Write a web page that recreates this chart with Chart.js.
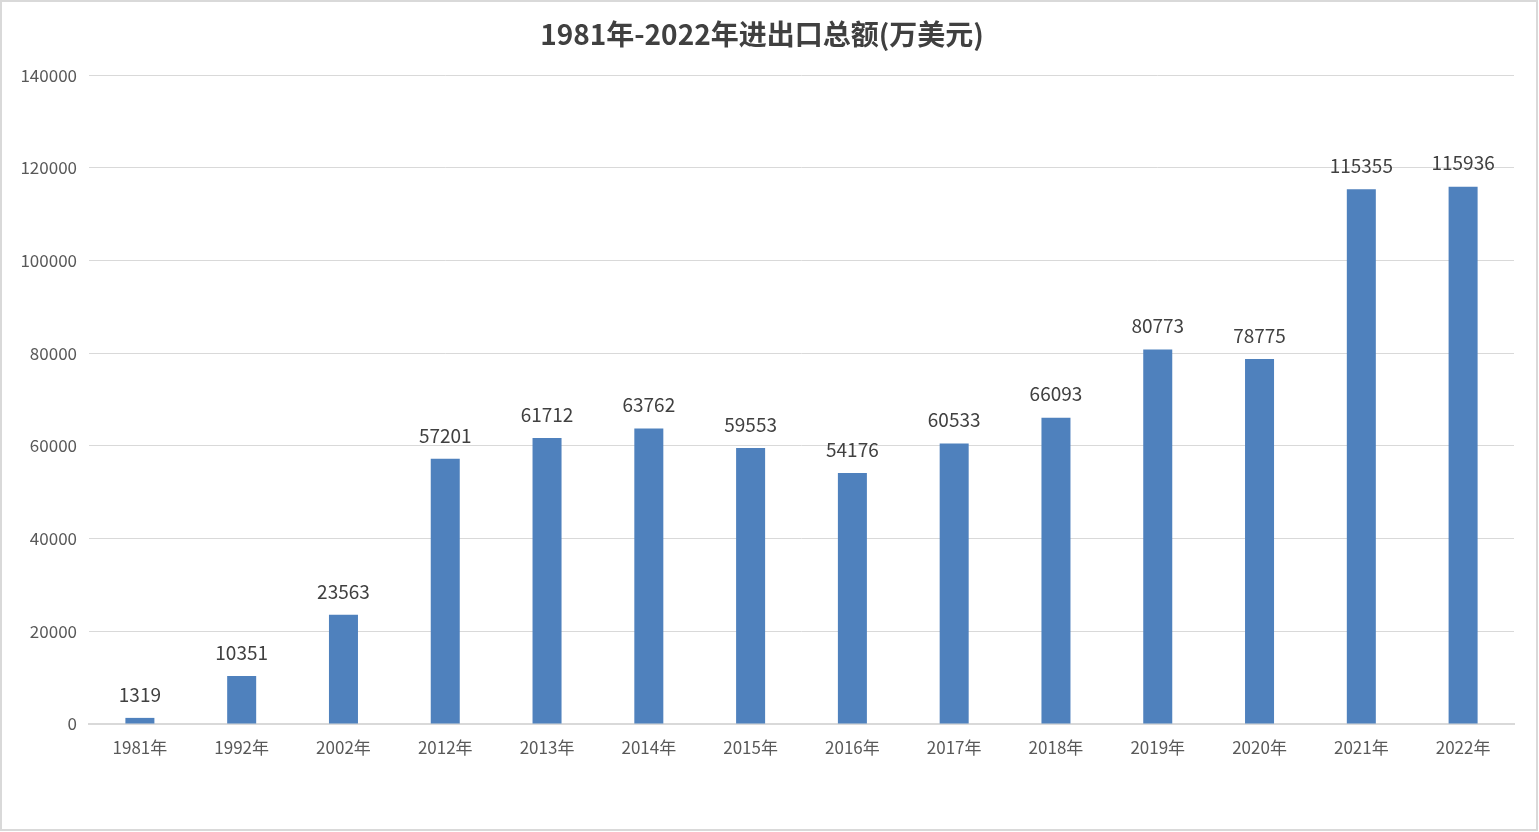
<!DOCTYPE html>
<html><head><meta charset="utf-8">
<script src="https://cdn.jsdelivr.net/npm/chart.js@4.4.1/dist/chart.umd.min.js"></script>
<style>html,body{margin:0;padding:0;background:#fff;}#wrap{position:absolute;left:0;top:0;width:1539px;height:832px;}</style>
</head><body>
<div id="wrap"><canvas id="c" width="1539" height="832"></canvas></div>
<script>
const categories = ["1981年","1992年","2002年","2012年","2013年","2014年","2015年","2016年","2017年","2018年","2019年","2020年","2021年","2022年"];
const totals = [1319,10351,23563,57201,61712,63762,59553,54176,60533,66093,80773,78775,115355,115936];
const yTicks = [0,20000,40000,60000,80000,100000,120000,140000];
const titleText = "1981年-2022年进出口总额(万美元)";

const FONT = "'Noto Sans CJK SC','Noto Sans',sans-serif";

const labelPlugin = {
  id: 'barLabels',
  afterDatasetsDraw(chart) {
    const ctx = chart.ctx;
    const meta = chart.getDatasetMeta(0);
    ctx.save();
    ctx.font = "19px " + FONT;
    ctx.fillStyle = "#404040";
    ctx.textAlign = "center";
    ctx.textBaseline = "bottom";
    meta.data.forEach((bar, i) => {
      ctx.fillText(String(totals[i]), bar.x, bar.y - 14);
    });
    ctx.restore();
  }
};
const borderPlugin = {
  id: 'frame',
  beforeDraw(chart) {
    const ctx = chart.ctx;
    ctx.save();
    ctx.fillStyle = "#fff";
    ctx.fillRect(0,0,chart.width,chart.height);
    ctx.strokeStyle = "#d9d9d9";
    ctx.lineWidth = 2;
    ctx.strokeRect(1,1,chart.width-3,chart.height-3);
    ctx.restore();
  }
};

new Chart(document.getElementById('c'), {
  type: 'bar',
  data: {
    labels: categories,
    datasets: [{ data: totals, backgroundColor: '#4f81bd', categoryPercentage: 1, barPercentage: 0.285 }]
  },
  options: {
    responsive: false,
    animation: false,
    layout: { padding: { left: 10, right: 25, top: 0, bottom: 64 } },
    plugins: {
      legend: { display: false },
      tooltip: { enabled: false },
      title: {
        display: true, text: titleText, color: '#404040',
        font: { family: FONT, size: 28, weight: 'bold', lineHeight: 1.2 },
        padding: { top: 18, bottom: 23.5 }
      }
    },
    scales: {
      x: {
        grid: { display: false },
        border: { display: true, color: '#d9d9d9', width: 2 },
        ticks: { color: '#595959', font: { family: FONT, size: 17 }, padding: 5, maxRotation: 0 },
        afterFit(s) { s.height = 44; }
      },
      y: {
        min: 0, max: 140000,
        afterBuildTicks(s) { s.ticks = yTicks.map(v => ({ value: v })); },
        grid: { color: '#d9d9d9', lineWidth: 1, drawTicks: false },
        border: { display: false },
        ticks: { color: '#595959', font: { family: FONT, size: 17 }, padding: 12, callback: v => String(v) },
        afterFit(s) { s.width = 79; }
      }
    }
  },
  plugins: [borderPlugin, labelPlugin]
});
</script>
</body></html>
